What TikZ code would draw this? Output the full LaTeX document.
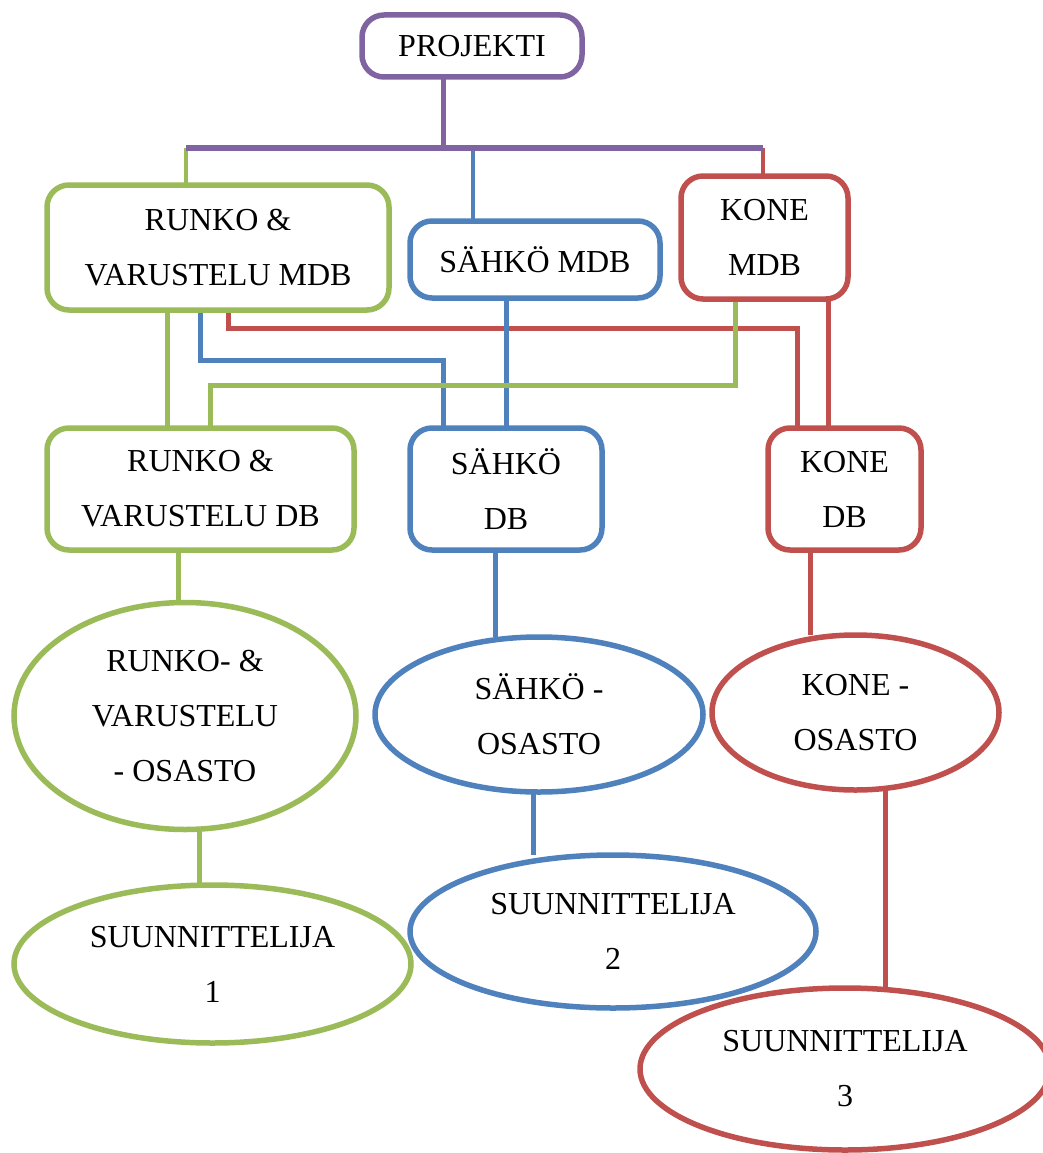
\documentclass[tikz,border=0pt]{standalone}
\usepackage{fontspec}
\setmainfont{Liberation Serif}
\usetikzlibrary{shapes.geometric,backgrounds}
\definecolor{orgpurple}{HTML}{8064A2}
\definecolor{orggreen}{HTML}{9BBB59}
\definecolor{orgblue}{HTML}{4F81BD}
\definecolor{orgred}{HTML}{C0504D}

\begin{document}
\begin{tikzpicture}[
  x=1pt,
  y=-1pt,
  orgtext/.style={font=\fontsize{32}{55}\selectfont, align=center},
  dbbox/.style={draw, fill=white, rounded corners=22pt, line width=5.5pt,
                inner sep=0pt, outer sep=0pt, orgtext},
  dept/.style={ellipse, draw, fill=white, line width=5.5pt,
               inner sep=0pt, outer sep=0pt, orgtext},
  link/.style={line width=5pt}
]
\useasboundingbox (0,0) rectangle (1043,1153);

% top level
\node [dbbox, draw=orgpurple, minimum width=220, minimum height=62] (proj) at (472,46) {PROJEKTI};

% master databases
\node [dbbox, draw=orggreen, minimum width=342, minimum height=125] (rvmdb) at (218,247.5) {RUNKO \&\\VARUSTELU MDB};
\node [dbbox, draw=orgblue, minimum width=250, minimum height=77] (smdb) at (535,259.5) {SÄHKÖ MDB};
\node [dbbox, draw=orgred, minimum width=167, minimum height=123] (kmdb) at (764.5,237.5) {KONE\\MDB};

% databases
\node [dbbox, draw=orggreen, minimum width=307, minimum height=122] (rvdb) at (200.5,489) {RUNKO \&\\VARUSTELU DB};
\node [dbbox, draw=orgblue, minimum width=192, minimum height=122] (sdb) at (506,489) {SÄHKÖ\\DB};
\node [dbbox, draw=orgred, minimum width=153, minimum height=122] (kdb) at (844.5,489) {KONE\\DB};

% departments
\node [dept, draw=orggreen, minimum width=342, minimum height=227] (rvos) at (185,716) {RUNKO- \&\\VARUSTELU\\- OSASTO};
\node [dept, draw=orgblue, minimum width=328, minimum height=155] (sos) at (539,714.5) {SÄHKÖ -\\OSASTO};
\node [dept, draw=orgred, minimum width=287, minimum height=155] (kos) at (855.5,712.5) {KONE -\\OSASTO};

% designers
\node [dept, draw=orggreen, minimum width=397, minimum height=158] (su1) at (212.5,964) {SUUNNITTELIJA\\1};
\node [dept, draw=orgblue, minimum width=406, minimum height=153] (su2) at (613,931.5) {SUUNNITTELIJA\\2};
\node [dept, draw=orgred, minimum width=410, minimum height=162] (su3) at (845,1069) {SUUNNITTELIJA\\3};

\coordinate (busL) at (186,148);
\coordinate (busR) at (763,148);

\begin{scope}[on background layer]
  % drops from the bus
  \draw [line width=4pt, orggreen] (busL) -- (busL |- rvmdb.north);
  \draw [line width=4pt, orgblue] ([xshift=-62pt]smdb.north |- busL) -- ([xshift=-62pt]smdb.north);
  \draw [line width=4pt, orgred] (busR) -- (busR |- kmdb.north);
  \draw [link, orgpurple] ([xshift=-29pt]proj.south) -- ([xshift=-29pt]proj.south |- busL);
  \draw [line width=6pt, orgpurple] (busL) -- (busR);

  % master database to database
  \draw [link, orggreen] ([xshift=-51pt]rvmdb.south) -- ([xshift=-51pt]rvmdb.south |- rvdb.north);
  \draw [link, orgblue] ([xshift=-18pt]rvmdb.south) -- ++(0,50) -| ([xshift=-63pt]sdb.north);
  \draw [link, orgred] ([xshift=10pt]rvmdb.south) -- ++(0,18) -| ([xshift=-47.5pt]kdb.north);
  \draw [link, orgblue] (sdb.north |- smdb.south) -- (sdb.north);
  \draw [link, orggreen] ([xshift=-29.5pt]kmdb.south) -- ++(0,86) -| ([xshift=9.5pt]rvdb.north);
  \draw [link, orgred] ([xshift=-16.5pt]kdb.north |- kmdb.south) -- ([xshift=-16.5pt]kdb.north);

  % database to department
  \draw [link, orggreen] ([xshift=-22.5pt]rvdb.south) -- ([xshift=-22.5pt]rvdb.south |- rvos.north);
  \draw [link, orgblue] ([xshift=-11pt]sdb.south) -- ([xshift=-11pt]sdb.south |- sos.north);
  \draw [link, orgred] ([xshift=-34.5pt]kdb.south) -- ([xshift=-34.5pt]kdb.south |- kos.north);

  % department to designer
  \draw [link, orggreen] ([xshift=14pt]rvos.south) -- ([xshift=14pt]rvos.south |- su1.north);
  \draw [link, orgblue] ([xshift=-6pt]sos.south) -- ([xshift=-6pt]sos.south |- su2.north);
  \draw [link, orgred] ([xshift=29.5pt]kos.south) -- ([xshift=29.5pt]kos.south |- su3.north);
\end{scope}

\end{tikzpicture}
\end{document}
